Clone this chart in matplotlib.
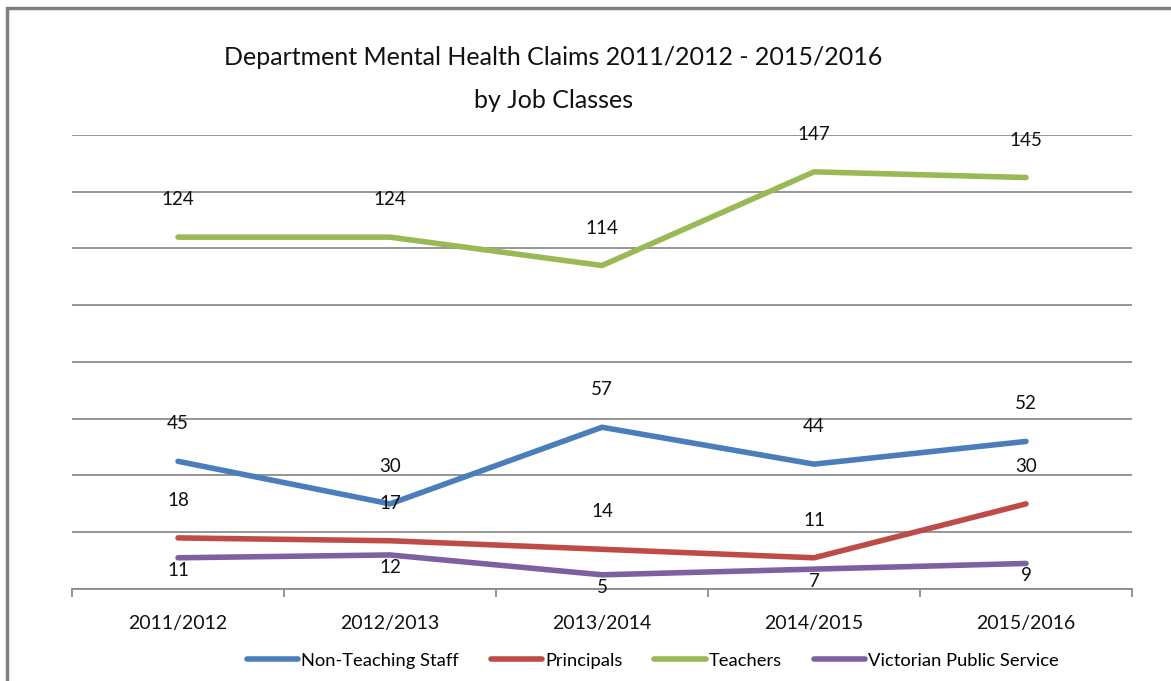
import matplotlib
matplotlib.use("Agg")
import matplotlib.pyplot as plt
from matplotlib.patches import Rectangle

years = ["2011/2012", "2012/2013", "2013/2014", "2014/2015", "2015/2016"]
non_teaching = [45, 30, 57, 44, 52]
principals = [18, 17, 14, 11, 30]
teachers = [124, 124, 114, 147, 145]
vps = [11, 12, 5, 7, 9]

series = [
    ("Non-Teaching Staff", non_teaching, "#4A7EBB", 27),
    ("Principals", principals, "#BE4B48", 27),
    ("Teachers", teachers, "#98B954", 27),
    ("Victorian Public Service", vps, "#7D60A0", -9),
]

plt.rcParams["font.family"] = ["Lato", "DejaVu Sans"]

fig = plt.figure(figsize=(11.71, 6.81), dpi=100)
ax = fig.add_axes([0.0615, 0.1351, 0.9052, 0.6667])

x = list(range(len(years)))
for name, vals, color, dy in series:
    ax.plot(x, vals, color=color, lw=4, solid_capstyle="round", label=name, zorder=3)
    for xi, v in zip(x, vals):
        ax.annotate(str(v), (xi, v), xytext=(0, dy), textcoords="offset points",
                    ha="center", va="center", fontsize=13.5, color="#111111", zorder=4)

ax.set_xlim(-0.5, len(years) - 0.5)
ax.set_ylim(0, 160)
ax.set_yticks(range(0, 161, 20))
ax.yaxis.grid(True, color="#8c8c8c", lw=1.3)
ax.set_axisbelow(True)
ax.tick_params(axis="y", left=False, labelleft=False)
for s in ["left", "right", "top"]:
    ax.spines[s].set_visible(False)
ax.spines["bottom"].set_color("#8c8c8c")
ax.spines["bottom"].set_linewidth(1.3)

ax.set_xticks([i - 0.5 for i in range(len(years) + 1)], minor=False)
ax.set_xticklabels([])
ax.tick_params(axis="x", length=6, color="#8c8c8c", width=1.3)
ax.set_xticks(x, minor=True)
ax.set_xticklabels(years, minor=True, fontsize=14, color="#111111")
ax.tick_params(axis="x", which="minor", length=0, pad=19)

fig.text(0.4725, 0.915, "Department Mental Health Claims 2011/2012 - 2015/2016",
         ha="center", va="center", fontsize=18, color="#111111")
fig.text(0.4725, 0.852, "by Job Classes", ha="center", va="center", fontsize=18,
         color="#111111")

ax.legend(loc="center", bbox_to_anchor=(0.548, -0.158), ncol=4, frameon=False,
          fontsize=13.2, handlelength=2.8, handletextpad=0.15, columnspacing=1.75)

fig.patches.append(Rectangle((7 / 1171, -0.1), 1.2, 1 - 8 / 681 + 0.1,
                             transform=fig.transFigure, fill=False,
                             edgecolor="#808080", lw=2.5))

fig.savefig("out.png", dpi=100)
